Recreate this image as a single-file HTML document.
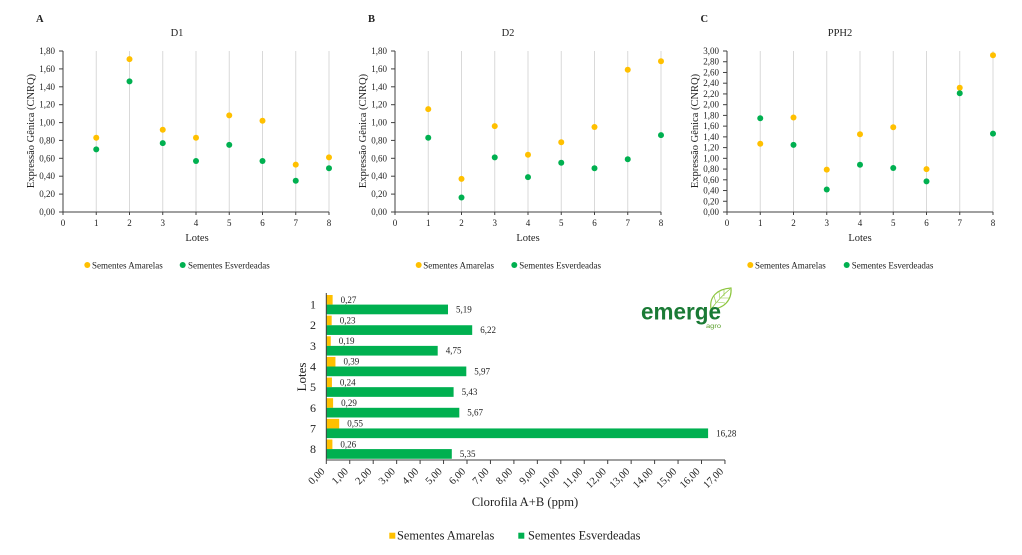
<!DOCTYPE html>
<html><head><meta charset="utf-8"><style>
html,body{margin:0;padding:0;background:#fff;}
svg{display:block;}
text{font-family:"Liberation Serif",serif;fill:#222;}
</style></head><body>
<svg width="1022" height="555" viewBox="0 0 1022 555" xmlns="http://www.w3.org/2000/svg">
<rect width="1022" height="555" fill="#fff"/>

<!-- ============ PANEL A ============ -->
<g>
<text x="36" y="22" font-size="10.5" font-weight="bold">A</text>
<text x="177" y="36" font-size="10.5" text-anchor="middle">D1</text>
<g stroke="#d9d9d9" stroke-width="1">
<line x1="96.25" y1="51" x2="96.25" y2="212"/><line x1="129.5" y1="51" x2="129.5" y2="212"/>
<line x1="162.75" y1="51" x2="162.75" y2="212"/><line x1="196" y1="51" x2="196" y2="212"/>
<line x1="229.25" y1="51" x2="229.25" y2="212"/><line x1="262.5" y1="51" x2="262.5" y2="212"/>
<line x1="295.75" y1="51" x2="295.75" y2="212"/><line x1="329" y1="51" x2="329" y2="212"/>
</g>
<g stroke="#404040" stroke-width="1">
<line x1="63" y1="51" x2="63" y2="212"/><line x1="63" y1="212" x2="329" y2="212"/>
<line x1="59" y1="212" x2="63" y2="212"/><line x1="59" y1="194.1" x2="63" y2="194.1"/><line x1="59" y1="176.2" x2="63" y2="176.2"/>
<line x1="59" y1="158.3" x2="63" y2="158.3"/><line x1="59" y1="140.4" x2="63" y2="140.4"/><line x1="59" y1="122.6" x2="63" y2="122.6"/>
<line x1="59" y1="104.7" x2="63" y2="104.7"/><line x1="59" y1="86.8" x2="63" y2="86.8"/><line x1="59" y1="68.9" x2="63" y2="68.9"/>
<line x1="59" y1="51" x2="63" y2="51"/>
<line x1="63" y1="212" x2="63" y2="215"/><line x1="96.25" y1="212" x2="96.25" y2="215"/><line x1="129.5" y1="212" x2="129.5" y2="215"/>
<line x1="162.75" y1="212" x2="162.75" y2="215"/><line x1="196" y1="212" x2="196" y2="215"/><line x1="229.25" y1="212" x2="229.25" y2="215"/>
<line x1="262.5" y1="212" x2="262.5" y2="215"/><line x1="295.75" y1="212" x2="295.75" y2="215"/><line x1="329" y1="212" x2="329" y2="215"/>
</g>
<g font-size="9" text-anchor="end">
<text x="55" y="215">0,00</text><text x="55" y="197.1">0,20</text><text x="55" y="179.2">0,40</text>
<text x="55" y="161.3">0,60</text><text x="55" y="143.4">0,80</text><text x="55" y="125.6">1,00</text>
<text x="55" y="107.7">1,20</text><text x="55" y="89.8">1,40</text><text x="55" y="71.9">1,60</text>
<text x="55" y="54">1,80</text>
</g>
<g font-size="9" text-anchor="middle">
<text x="63" y="226">0</text><text x="96.25" y="226">1</text><text x="129.5" y="226">2</text><text x="162.75" y="226">3</text>
<text x="196" y="226">4</text><text x="229.25" y="226">5</text><text x="262.5" y="226">6</text><text x="295.75" y="226">7</text><text x="329" y="226">8</text>
</g>
<text x="197" y="241" font-size="10.5" text-anchor="middle">Lotes</text>
<text transform="translate(34,131) rotate(-90)" font-size="10.5" text-anchor="middle">Expressão Gênica (CNRQ)</text>
<g fill="#FFC000">
<circle cx="96.25" cy="137.8" r="3"/><circle cx="129.5" cy="59.1" r="3"/><circle cx="162.75" cy="129.7" r="3"/><circle cx="196" cy="137.8" r="3"/>
<circle cx="229.25" cy="115.4" r="3"/><circle cx="262.5" cy="120.8" r="3"/><circle cx="295.75" cy="164.6" r="3"/><circle cx="329" cy="157.4" r="3"/>
</g>
<g fill="#00B050">
<circle cx="96.25" cy="149.4" r="3"/><circle cx="129.5" cy="81.4" r="3"/><circle cx="162.75" cy="143.1" r="3"/><circle cx="196" cy="161" r="3"/>
<circle cx="229.25" cy="144.9" r="3"/><circle cx="262.5" cy="161" r="3"/><circle cx="295.75" cy="180.7" r="3"/><circle cx="329" cy="168.2" r="3"/>
</g>
<circle cx="87.3" cy="265" r="3" fill="#FFC000"/><text x="92" y="268.3" font-size="9">Sementes Amarelas</text>
<circle cx="182.7" cy="265" r="3" fill="#00B050"/><text x="188" y="268.3" font-size="9">Sementes Esverdeadas</text>
</g>

<!-- ============ PANEL B ============ -->
<g>
<text x="368" y="22" font-size="10.5" font-weight="bold">B</text>
<text x="508" y="36" font-size="10.5" text-anchor="middle">D2</text>
<g stroke="#d9d9d9" stroke-width="1">
<line x1="428.25" y1="51" x2="428.25" y2="212"/><line x1="461.5" y1="51" x2="461.5" y2="212"/>
<line x1="494.75" y1="51" x2="494.75" y2="212"/><line x1="528" y1="51" x2="528" y2="212"/>
<line x1="561.25" y1="51" x2="561.25" y2="212"/><line x1="594.5" y1="51" x2="594.5" y2="212"/>
<line x1="627.75" y1="51" x2="627.75" y2="212"/><line x1="661" y1="51" x2="661" y2="212"/>
</g>
<g stroke="#404040" stroke-width="1">
<line x1="395" y1="51" x2="395" y2="212"/><line x1="395" y1="212" x2="661" y2="212"/>
<line x1="391" y1="212" x2="395" y2="212"/><line x1="391" y1="194.1" x2="395" y2="194.1"/><line x1="391" y1="176.2" x2="395" y2="176.2"/>
<line x1="391" y1="158.3" x2="395" y2="158.3"/><line x1="391" y1="140.4" x2="395" y2="140.4"/><line x1="391" y1="122.6" x2="395" y2="122.6"/>
<line x1="391" y1="104.7" x2="395" y2="104.7"/><line x1="391" y1="86.8" x2="395" y2="86.8"/><line x1="391" y1="68.9" x2="395" y2="68.9"/>
<line x1="391" y1="51" x2="395" y2="51"/>
<line x1="395" y1="212" x2="395" y2="215"/><line x1="428.25" y1="212" x2="428.25" y2="215"/><line x1="461.5" y1="212" x2="461.5" y2="215"/>
<line x1="494.75" y1="212" x2="494.75" y2="215"/><line x1="528" y1="212" x2="528" y2="215"/><line x1="561.25" y1="212" x2="561.25" y2="215"/>
<line x1="594.5" y1="212" x2="594.5" y2="215"/><line x1="627.75" y1="212" x2="627.75" y2="215"/><line x1="661" y1="212" x2="661" y2="215"/>
</g>
<g font-size="9" text-anchor="end">
<text x="387" y="215">0,00</text><text x="387" y="197.1">0,20</text><text x="387" y="179.2">0,40</text>
<text x="387" y="161.3">0,60</text><text x="387" y="143.4">0,80</text><text x="387" y="125.6">1,00</text>
<text x="387" y="107.7">1,20</text><text x="387" y="89.8">1,40</text><text x="387" y="71.9">1,60</text>
<text x="387" y="54">1,80</text>
</g>
<g font-size="9" text-anchor="middle">
<text x="395" y="226">0</text><text x="428.25" y="226">1</text><text x="461.5" y="226">2</text><text x="494.75" y="226">3</text>
<text x="528" y="226">4</text><text x="561.25" y="226">5</text><text x="594.5" y="226">6</text><text x="627.75" y="226">7</text><text x="661" y="226">8</text>
</g>
<text x="528" y="241" font-size="10.5" text-anchor="middle">Lotes</text>
<text transform="translate(366,131) rotate(-90)" font-size="10.5" text-anchor="middle">Expressão Gênica (CNRQ)</text>
<g fill="#FFC000">
<circle cx="428.25" cy="109.1" r="3"/><circle cx="461.5" cy="178.9" r="3"/><circle cx="494.75" cy="126.1" r="3"/><circle cx="528" cy="154.8" r="3"/>
<circle cx="561.25" cy="142.2" r="3"/><circle cx="594.5" cy="127" r="3"/><circle cx="627.75" cy="69.8" r="3"/><circle cx="661" cy="61.2" r="3"/>
</g>
<g fill="#00B050">
<circle cx="428.25" cy="137.8" r="3"/><circle cx="461.5" cy="197.5" r="3"/><circle cx="494.75" cy="157.4" r="3"/><circle cx="528" cy="177.1" r="3"/>
<circle cx="561.25" cy="162.8" r="3"/><circle cx="594.5" cy="168.2" r="3"/><circle cx="627.75" cy="159.2" r="3"/><circle cx="661" cy="135.1" r="3"/>
</g>
<circle cx="418.7" cy="265" r="3" fill="#FFC000"/><text x="423.3" y="268.3" font-size="9">Sementes Amarelas</text>
<circle cx="514.3" cy="265" r="3" fill="#00B050"/><text x="519.3" y="268.3" font-size="9">Sementes Esverdeadas</text>
</g>

<!-- ============ PANEL C ============ -->
<g>
<text x="700.5" y="22" font-size="10.5" font-weight="bold">C</text>
<text x="840" y="36" font-size="10.5" text-anchor="middle">PPH2</text>
<g stroke="#d9d9d9" stroke-width="1">
<line x1="760.25" y1="51" x2="760.25" y2="212"/><line x1="793.5" y1="51" x2="793.5" y2="212"/>
<line x1="826.75" y1="51" x2="826.75" y2="212"/><line x1="860" y1="51" x2="860" y2="212"/>
<line x1="893.25" y1="51" x2="893.25" y2="212"/><line x1="926.5" y1="51" x2="926.5" y2="212"/>
<line x1="959.75" y1="51" x2="959.75" y2="212"/><line x1="993" y1="51" x2="993" y2="212"/>
</g>
<g stroke="#404040" stroke-width="1">
<line x1="727" y1="51" x2="727" y2="212"/><line x1="727" y1="212" x2="993" y2="212"/>
<line x1="723" y1="212" x2="727" y2="212"/><line x1="723" y1="201.27" x2="727" y2="201.27"/><line x1="723" y1="190.53" x2="727" y2="190.53"/>
<line x1="723" y1="179.8" x2="727" y2="179.8"/><line x1="723" y1="169.07" x2="727" y2="169.07"/><line x1="723" y1="158.33" x2="727" y2="158.33"/>
<line x1="723" y1="147.6" x2="727" y2="147.6"/><line x1="723" y1="136.87" x2="727" y2="136.87"/><line x1="723" y1="126.13" x2="727" y2="126.13"/>
<line x1="723" y1="115.4" x2="727" y2="115.4"/><line x1="723" y1="104.67" x2="727" y2="104.67"/><line x1="723" y1="93.93" x2="727" y2="93.93"/>
<line x1="723" y1="83.2" x2="727" y2="83.2"/><line x1="723" y1="72.47" x2="727" y2="72.47"/><line x1="723" y1="61.73" x2="727" y2="61.73"/>
<line x1="723" y1="51" x2="727" y2="51"/>
<line x1="727" y1="212" x2="727" y2="215"/><line x1="760.25" y1="212" x2="760.25" y2="215"/><line x1="793.5" y1="212" x2="793.5" y2="215"/>
<line x1="826.75" y1="212" x2="826.75" y2="215"/><line x1="860" y1="212" x2="860" y2="215"/><line x1="893.25" y1="212" x2="893.25" y2="215"/>
<line x1="926.5" y1="212" x2="926.5" y2="215"/><line x1="959.75" y1="212" x2="959.75" y2="215"/><line x1="993" y1="212" x2="993" y2="215"/>
</g>
<g font-size="9" text-anchor="end">
<text x="719" y="215">0,00</text><text x="719" y="204.27">0,20</text><text x="719" y="193.53">0,40</text>
<text x="719" y="182.8">0,60</text><text x="719" y="172.07">0,80</text><text x="719" y="161.33">1,00</text>
<text x="719" y="150.6">1,20</text><text x="719" y="139.87">1,40</text><text x="719" y="129.13">1,60</text>
<text x="719" y="118.4">1,80</text><text x="719" y="107.67">2,00</text><text x="719" y="96.93">2,20</text>
<text x="719" y="86.2">2,40</text><text x="719" y="75.47">2,60</text><text x="719" y="64.73">2,80</text>
<text x="719" y="54">3,00</text>
</g>
<g font-size="9" text-anchor="middle">
<text x="727" y="226">0</text><text x="760.25" y="226">1</text><text x="793.5" y="226">2</text><text x="826.75" y="226">3</text>
<text x="860" y="226">4</text><text x="893.25" y="226">5</text><text x="926.5" y="226">6</text><text x="959.75" y="226">7</text><text x="993" y="226">8</text>
</g>
<text x="860" y="241" font-size="10.5" text-anchor="middle">Lotes</text>
<text transform="translate(698,131) rotate(-90)" font-size="10.5" text-anchor="middle">Expressão Gênica (CNRQ)</text>
<g fill="#FFC000">
<circle cx="760.25" cy="143.8" r="3"/><circle cx="793.5" cy="117.5" r="3"/><circle cx="826.75" cy="169.6" r="3"/><circle cx="860" cy="134.2" r="3"/>
<circle cx="893.25" cy="127.2" r="3"/><circle cx="926.5" cy="169.1" r="3"/><circle cx="959.75" cy="87.8" r="3"/><circle cx="993" cy="55.3" r="3"/>
</g>
<g fill="#00B050">
<circle cx="760.25" cy="118.2" r="3"/><circle cx="793.5" cy="144.9" r="3"/><circle cx="826.75" cy="189.5" r="3"/><circle cx="860" cy="164.8" r="3"/>
<circle cx="893.25" cy="168" r="3"/><circle cx="926.5" cy="181.4" r="3"/><circle cx="959.75" cy="93.2" r="3"/><circle cx="993" cy="133.6" r="3"/>
</g>
<circle cx="750.3" cy="265" r="3" fill="#FFC000"/><text x="755" y="268.3" font-size="9">Sementes Amarelas</text>
<circle cx="846.7" cy="265" r="3" fill="#00B050"/><text x="851.7" y="268.3" font-size="9">Sementes Esverdeadas</text>
</g>

<!-- ============ BAR CHART ============ -->
<g>
<!-- yellow bars -->
<g fill="#FFC000">
<rect x="326.3" y="295" width="6.33" height="9.6"/>
<rect x="326.3" y="315.64" width="5.39" height="9.6"/>
<rect x="326.3" y="336.28" width="4.46" height="9.6"/>
<rect x="326.3" y="356.92" width="9.15" height="9.6"/>
<rect x="326.3" y="377.56" width="5.63" height="9.6"/>
<rect x="326.3" y="398.2" width="6.8" height="9.6"/>
<rect x="326.3" y="418.84" width="12.9" height="9.6"/>
<rect x="326.3" y="439.48" width="6.1" height="9.6"/>
</g>
<g fill="#00B050">
<rect x="326.3" y="304.6" width="121.7" height="9.7"/>
<rect x="326.3" y="325.24" width="145.9" height="9.7"/>
<rect x="326.3" y="345.88" width="111.4" height="9.7"/>
<rect x="326.3" y="366.52" width="140" height="9.7"/>
<rect x="326.3" y="387.16" width="127.3" height="9.7"/>
<rect x="326.3" y="407.8" width="133" height="9.7"/>
<rect x="326.3" y="428.44" width="381.8" height="9.7"/>
<rect x="326.3" y="449.08" width="125.5" height="9.7"/>
</g>
<!-- value labels -->
<g font-size="9">
<text x="340.6" y="302.8">0,27</text>
<text x="339.7" y="323.4">0,23</text>
<text x="338.8" y="344.1">0,19</text>
<text x="343.5" y="364.7">0,39</text>
<text x="339.9" y="385.4">0,24</text>
<text x="341.1" y="406">0,29</text>
<text x="347.2" y="426.6">0,55</text>
<text x="340.4" y="447.3">0,26</text>
<text x="456" y="312.5">5,19</text>
<text x="480.2" y="333.1">6,22</text>
<text x="445.7" y="353.7">4,75</text>
<text x="474.3" y="374.4">5,97</text>
<text x="461.6" y="395">5,43</text>
<text x="467.3" y="415.7">5,67</text>
<text x="716.1" y="436.3">16,28</text>
<text x="459.8" y="457">5,35</text>
</g>
<!-- axes -->
<g stroke="#404040" stroke-width="1">
<line x1="326.3" y1="293" x2="326.3" y2="460"/>
<line x1="326.3" y1="460" x2="725" y2="460"/>
<line x1="326.3" y1="460" x2="326.3" y2="464"/><line x1="349.75" y1="460" x2="349.75" y2="464"/><line x1="373.2" y1="460" x2="373.2" y2="464"/>
<line x1="396.65" y1="460" x2="396.65" y2="464"/><line x1="420.1" y1="460" x2="420.1" y2="464"/><line x1="443.55" y1="460" x2="443.55" y2="464"/>
<line x1="467" y1="460" x2="467" y2="464"/><line x1="490.45" y1="460" x2="490.45" y2="464"/><line x1="513.9" y1="460" x2="513.9" y2="464"/>
<line x1="537.35" y1="460" x2="537.35" y2="464"/><line x1="560.8" y1="460" x2="560.8" y2="464"/><line x1="584.25" y1="460" x2="584.25" y2="464"/>
<line x1="607.7" y1="460" x2="607.7" y2="464"/><line x1="631.15" y1="460" x2="631.15" y2="464"/><line x1="654.6" y1="460" x2="654.6" y2="464"/>
<line x1="678.05" y1="460" x2="678.05" y2="464"/><line x1="701.5" y1="460" x2="701.5" y2="464"/><line x1="724.95" y1="460" x2="724.95" y2="464"/>
</g>
<!-- lote labels -->
<g font-size="12" text-anchor="middle">
<text x="313" y="308.6">1</text><text x="313" y="329.2">2</text><text x="313" y="349.9">3</text><text x="313" y="370.5">4</text>
<text x="313" y="391.2">5</text><text x="313" y="411.8">6</text><text x="313" y="432.4">7</text><text x="313" y="453.1">8</text>
</g>
<text transform="translate(306,377) rotate(-90)" font-size="13" text-anchor="middle">Lotes</text>
<!-- rotated x labels -->
<g font-size="10.5" text-anchor="end">
<text transform="translate(325.3,472) rotate(-45)">0,00</text>
<text transform="translate(348.75,472) rotate(-45)">1,00</text>
<text transform="translate(372.2,472) rotate(-45)">2,00</text>
<text transform="translate(395.65,472) rotate(-45)">3,00</text>
<text transform="translate(419.1,472) rotate(-45)">4,00</text>
<text transform="translate(442.55,472) rotate(-45)">5,00</text>
<text transform="translate(466,472) rotate(-45)">6,00</text>
<text transform="translate(489.45,472) rotate(-45)">7,00</text>
<text transform="translate(512.9,472) rotate(-45)">8,00</text>
<text transform="translate(536.35,472) rotate(-45)">9,00</text>
<text transform="translate(559.8,472) rotate(-45)">10,00</text>
<text transform="translate(583.25,472) rotate(-45)">11,00</text>
<text transform="translate(606.7,472) rotate(-45)">12,00</text>
<text transform="translate(630.15,472) rotate(-45)">13,00</text>
<text transform="translate(653.6,472) rotate(-45)">14,00</text>
<text transform="translate(677.05,472) rotate(-45)">15,00</text>
<text transform="translate(700.5,472) rotate(-45)">16,00</text>
<text transform="translate(723.95,472) rotate(-45)">17,00</text>
</g>
<text x="525" y="506" font-size="12.6" text-anchor="middle">Clorofila A+B (ppm)</text>
<!-- legend -->
<rect x="389.3" y="532.7" width="6" height="6" fill="#FFC000"/>
<text x="397" y="539.5" font-size="12.4">Sementes Amarelas</text>
<rect x="518.3" y="532.7" width="6" height="6" fill="#00B050"/>
<text x="528" y="539.5" font-size="12.4">Sementes Esverdeadas</text>
</g>

<!-- ============ LOGO ============ -->
<g>
<path d="M711 309 C 709 297, 717 289, 731 288 C 732 300, 724 309, 711 309 Z" fill="none" stroke="#8dc63f" stroke-width="1.2"/>
<path d="M712 308 C 718 300, 724 294, 730 289" fill="none" stroke="#8dc63f" stroke-width="0.8"/>
<path d="M716 303 L 714 296 M720 299 L 719 292 M724 296 L 724 290 M717 302 L 725 303 M721 298 L 729 298" fill="none" stroke="#8dc63f" stroke-width="0.6"/>
<text x="641" y="319.3" font-family="Liberation Sans, sans-serif" font-weight="bold" font-size="23" fill="#1a7a35" textLength="80" lengthAdjust="spacingAndGlyphs" style="font-family:'Liberation Sans',sans-serif;fill:#1a7a35">emerge</text>
<text x="706" y="328" font-size="6" textLength="15" lengthAdjust="spacingAndGlyphs" style="font-family:'Liberation Sans',sans-serif;fill:#5aa02c">agro</text>
</g>
</svg>
</body></html>
